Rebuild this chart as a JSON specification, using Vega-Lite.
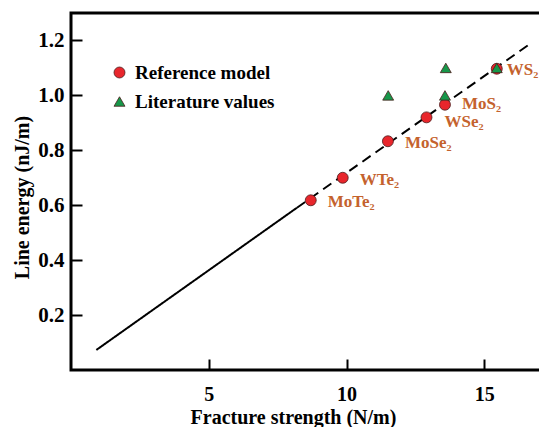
{
  "$schema": "https://vega.github.io/schema/vega-lite/v6.json",
  "width": 474,
  "height": 357,
  "autosize": {"type": "none"},
  "padding": {"left": 71, "top": 13, "right": 0, "bottom": 57},
  "background": "white",
  "config": {
    "font": "Liberation Serif",
    "view": {"stroke": "black", "strokeWidth": 3},
    "axis": {
      "domain": false,
      "grid": false,
      "tickColor": "black",
      "tickWidth": 2,
      "tickSize": -11,
      "labelFont": "Liberation Serif",
      "labelFontWeight": "bold",
      "labelFontSize": 20,
      "labelColor": "black",
      "titleFont": "Liberation Serif",
      "titleFontWeight": "bold",
      "titleFontSize": 20,
      "titleColor": "black"
    },
    "legend": {
      "orient": "none",
      "legendX": 39,
      "legendY": 50,
      "padding": 0,
      "labelFont": "Liberation Serif",
      "labelFontWeight": "bold",
      "labelFontSize": 19,
      "labelColor": "black",
      "labelOffset": 6,
      "rowPadding": 9,
      "symbolSize": 120,
      "symbolStrokeColor": "#4a1a1a",
      "symbolStrokeWidth": 0.8
    }
  },
  "datasets": {
    "fit": [
      {"x": 0.92, "y": 0.073, "seg": "solid"},
      {"x": 8.2, "y": 0.591, "seg": "solid"},
      {"x": 8.2, "y": 0.591, "seg": "dash"},
      {"x": 16.62, "y": 1.185, "seg": "dash"}
    ],
    "pts": [
      {"name": "MoTe₂", "x": 8.7, "y": 0.618, "type": "Reference model"},
      {"name": "WTe₂", "x": 9.86, "y": 0.7, "type": "Reference model"},
      {"name": "MoSe₂", "x": 11.5, "y": 0.833, "type": "Reference model"},
      {"name": "WSe₂", "x": 12.9, "y": 0.92, "type": "Reference model"},
      {"name": "MoS₂", "x": 13.57, "y": 0.966, "type": "Reference model"},
      {"name": "WS₂", "x": 15.45, "y": 1.097, "type": "Reference model"},
      {"name": "", "x": 11.51, "y": 1.0, "type": "Literature values"},
      {"name": "", "x": 13.6, "y": 1.1, "type": "Literature values"},
      {"name": "", "x": 13.57, "y": 1.0, "type": "Literature values"},
      {"name": "", "x": 15.45, "y": 1.1, "type": "Literature values"}
    ]
  },
  "layer": [
    {
      "data": {"name": "fit"},
      "mark": {"type": "line", "color": "black", "strokeWidth": 2},
      "encoding": {
        "x": {
          "field": "x", "type": "quantitative",
          "scale": {"domain": [0, 17.2], "nice": false, "zero": false},
          "axis": {"values": [5, 10, 15], "labelPadding": 25, "title": "Fracture strength (N/m)", "titleX": 222, "titleY": 53, "titleBaseline": "alphabetic", "titleAlign": "center", "titleAnchor": "start"}
        },
        "y": {
          "field": "y", "type": "quantitative",
          "scale": {"domain": [0, 1.3], "nice": false},
          "axis": {"values": [0.2, 0.4, 0.6, 0.8, 1.0, 1.2], "format": ".1f", "labelPadding": 18, "labelFontSize": 21, "title": "Line energy (nJ/m)", "titleX": -43, "titleY": 184, "titleBaseline": "alphabetic", "titleAlign": "center", "titleAngle": -90, "titleAnchor": "start"}
        },
        "detail": {"field": "seg"},
        "strokeDash": {
          "field": "seg", "type": "nominal",
          "scale": {"domain": ["solid", "dash"], "range": [[1, 0], [10, 6]]},
          "legend": null
        }
      }
    },
    {
      "data": {"name": "pts"},
      "mark": {"type": "point", "filled": true, "opacity": 1, "size": 120, "stroke": "#4a1a1a", "strokeWidth": 0.8},
      "encoding": {
        "x": {"field": "x", "type": "quantitative"},
        "y": {"field": "y", "type": "quantitative"},
        "color": {
          "field": "type", "type": "nominal",
          "scale": {"domain": ["Reference model", "Literature values"], "range": ["#e8262c", "#17974a"]},
          "legend": {"title": null}
        },
        "shape": {
          "field": "type", "type": "nominal",
          "scale": {"domain": ["Reference model", "Literature values"], "range": ["circle", "triangle-up"]},
          "legend": {"title": null}
        }
      }
    },
    {
      "data": {"name": "pts"},
      "transform": [{"filter": "datum.type === 'Reference model' && indexof(['WS₂','MoS₂','WSe₂'], datum.name) < 0"}],
      "mark": {"type": "text", "align": "left", "baseline": "middle", "dx": 17, "dy": 2, "font": "Liberation Serif", "fontWeight": "bold", "fontSize": 17, "color": "#c4622d"},
      "encoding": {
        "x": {"field": "x", "type": "quantitative"},
        "y": {"field": "y", "type": "quantitative"},
        "text": {"field": "name"}
      }
    },
    {
      "data": {"name": "pts"},
      "transform": [{"filter": "datum.name === 'WSe₂'"}],
      "mark": {"type": "text", "align": "left", "baseline": "middle", "dx": 18, "dy": 5, "font": "Liberation Serif", "fontWeight": "bold", "fontSize": 17, "color": "#c4622d"},
      "encoding": {
        "x": {"field": "x", "type": "quantitative"},
        "y": {"field": "y", "type": "quantitative"},
        "text": {"field": "name"}
      }
    },
    {
      "data": {"name": "pts"},
      "transform": [{"filter": "datum.name === 'MoS₂'"}],
      "mark": {"type": "text", "align": "left", "baseline": "middle", "dx": 17, "dy": -1, "font": "Liberation Serif", "fontWeight": "bold", "fontSize": 17, "color": "#c4622d"},
      "encoding": {
        "x": {"field": "x", "type": "quantitative"},
        "y": {"field": "y", "type": "quantitative"},
        "text": {"field": "name"}
      }
    },
    {
      "data": {"name": "pts"},
      "transform": [{"filter": "datum.name === 'WS₂'"}],
      "mark": {"type": "text", "align": "left", "baseline": "middle", "dx": 10, "dy": 1, "font": "Liberation Serif", "fontWeight": "bold", "fontSize": 17, "color": "#c4622d"},
      "encoding": {
        "x": {"field": "x", "type": "quantitative"},
        "y": {"field": "y", "type": "quantitative"},
        "text": {"field": "name"}
      }
    }
  ]
}
